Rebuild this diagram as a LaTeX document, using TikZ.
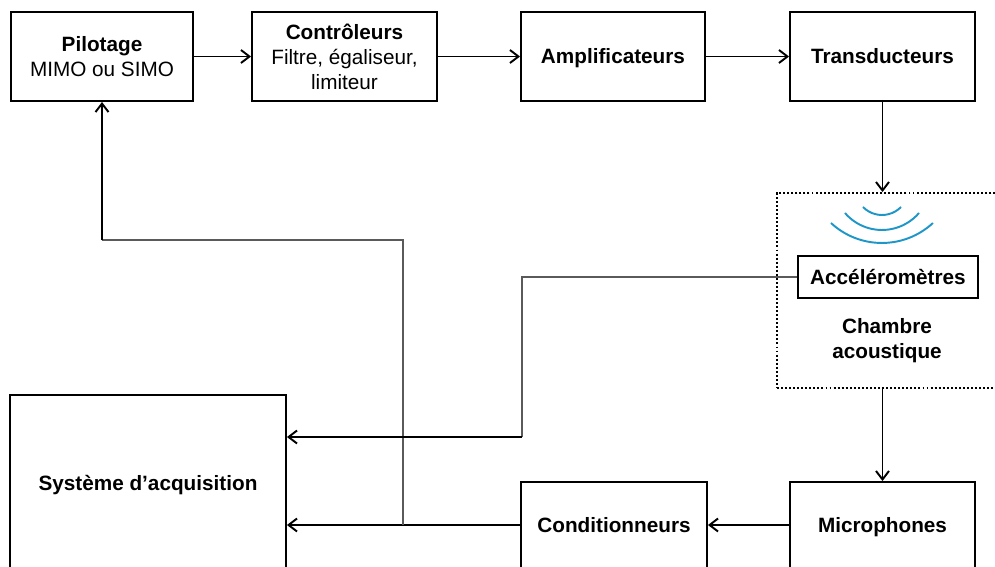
\documentclass[tikz,border=0pt]{standalone}
\usepackage{fontspec}
\setmainfont{Liberation Sans}
\usetikzlibrary{arrows.meta}
\definecolor{onde}{RGB}{30,150,200}
\definecolor{gris}{RGB}{90,90,90}
\begin{document}
\begin{tikzpicture}[x=0.02cm,y=-0.02cm,
        bloc/.style={draw,line width=1.1pt,align=center,font=\fontsize{11.8}{14.2}\selectfont},
        ligne/.style={text height=8.5pt,text depth=0pt},
        fleche/.style={line width=1.1pt,-{Straight Barb[length=1.7mm,width=2.6mm]}},
        retour/.style={line width=0.9pt,draw=gris}]
        \useasboundingbox (0,0) rectangle (995,566);
        %% Chaine de pilotage
        \node[bloc,minimum width=3.64cm,minimum height=1.78cm] (pilot) at (102,56.5) {\textbf{Pilotage}\\MIMO ou SIMO};
        \node[bloc,minimum width=3.7cm,minimum height=1.78cm] (ctrl) at (344.5,56.5) {\textbf{Contrôleurs}\\Filtre, égaliseur,\\limiteur};
        \node[bloc,ligne,minimum width=3.68cm,minimum height=1.78cm] (ampli) at (613,56.5) {\textbf{Amplificateurs}};
        \node[bloc,ligne,minimum width=3.7cm,minimum height=1.78cm] (trans) at (882.5,56.5) {\textbf{Transducteurs}};
        %% Chambre acoustique
        \node[draw,line width=1.1pt,dash pattern=on 1.1pt off 1.2pt,minimum width=4.76cm,minimum height=3.9cm] (chambre) at (896,290.5) {};
        \node[bloc,ligne,minimum width=3.6cm,minimum height=0.84cm] (accel) at (888,277) {\textbf{Accéléromètres}};
        \node[align=center,font=\fontsize{11.8}{14.2}\selectfont\bfseries] (titre) at (887,341) {Chambre\\acoustique};
        \foreach \xa/\ya/\t/\r in {863/207/45.6/26.6, 845/213/49.3/48.8, 831/223/42.8/75} {
            \draw[onde,line width=1.1pt] (\xa,\ya) arc[start angle=90+\t, end angle=90-\t, radius=\r];
        }
        %% Chaine de mesure
        \node[bloc,ligne,minimum width=5.52cm,minimum height=3.52cm] (acq) at (148,483) {\textbf{Système d’acquisition}};
        \node[bloc,ligne,minimum width=3.72cm,minimum height=1.72cm] (cond) at (614,525) {\textbf{Conditionneurs}};
        \node[bloc,ligne,minimum width=3.7cm,minimum height=1.72cm] (micro) at (882.5,525) {\textbf{Microphones}};
        %% Fleches
        \draw[fleche] (pilot.east) -- (ctrl.west);
        \draw[fleche] (ctrl.east) -- (ampli.west);
        \draw[fleche] (ampli.east) -- (trans.west);
        \draw[fleche] (trans.south) -- (trans.south |- chambre.north);
        \draw[fleche] (micro.north |- chambre.south) -- (micro.north);
        \draw[fleche] (micro.west) -- (cond.east);
        \draw[fleche] (cond.west) -- (cond.west -| acq.east);
        %% Retours
        \coordinate (branche) at (403,525);
        \coordinate (coude) at (403,240);
        \coordinate (relais) at (522,437);
        \draw[retour] (branche) -- (coude) -- (coude -| pilot.south);
        \draw[fleche] (coude -| pilot.south) -- (pilot.south);
        \draw[retour] (accel.west) -| (relais);
        \draw[fleche] (relais) -- (relais -| acq.east);
    \end{tikzpicture}
\end{document}
